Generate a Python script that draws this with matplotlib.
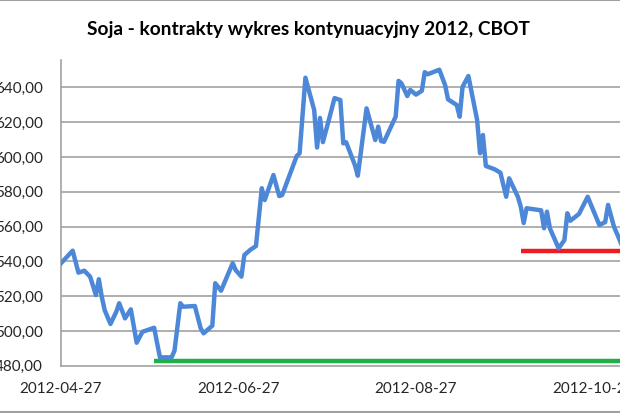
import datetime as dt
import numpy as np
import matplotlib
matplotlib.use('Agg')
import matplotlib.pyplot as plt
import matplotlib.dates as mdates
from matplotlib.lines import Line2D

# Soybean continuous contract
dates = ['2012-04-27', '2012-05-01', '2012-05-03', '2012-05-05', '2012-05-07',
         '2012-05-09', '2012-05-10', '2012-05-11', '2012-05-12', '2012-05-14',
         '2012-05-16', '2012-05-17', '2012-05-19', '2012-05-21', '2012-05-23',
         '2012-05-25', '2012-05-29', '2012-05-31', '2012-06-04', '2012-06-05',
         '2012-06-07', '2012-06-08', '2012-06-12', '2012-06-14', '2012-06-15',
         '2012-06-18', '2012-06-19', '2012-06-21', '2012-06-25', '2012-06-26',
         '2012-06-28', '2012-06-29', '2012-07-01', '2012-07-03', '2012-07-05',
         '2012-07-06', '2012-07-09', '2012-07-11', '2012-07-12', '2012-07-17',
         '2012-07-18', '2012-07-20', '2012-07-23', '2012-07-24', '2012-07-25',
         '2012-07-26', '2012-07-28', '2012-07-30', '2012-08-01', '2012-08-02',
         '2012-08-03', '2012-08-06', '2012-08-07', '2012-08-10', '2012-08-13',
         '2012-08-14', '2012-08-15', '2012-08-16', '2012-08-20', '2012-08-21',
         '2012-08-22', '2012-08-24', '2012-08-25', '2012-08-27', '2012-08-29',
         '2012-08-30', '2012-08-31', '2012-09-04', '2012-09-06', '2012-09-07',
         '2012-09-10', '2012-09-11', '2012-09-12', '2012-09-14', '2012-09-17',
         '2012-09-18', '2012-09-19', '2012-09-20', '2012-09-23', '2012-09-25',
         '2012-09-27', '2012-09-28', '2012-10-01', '2012-10-02', '2012-10-03',
         '2012-10-04', '2012-10-09', '2012-10-10', '2012-10-11', '2012-10-12',
         '2012-10-15', '2012-10-17', '2012-10-18', '2012-10-19', '2012-10-22',
         '2012-10-25', '2012-10-26', '2012-10-29', '2012-10-31', '2012-11-01',
         '2012-11-03', '2012-11-05', '2012-11-06']
prices = [538.9, 546.1, 533.5, 534.6, 531.2,
          520.6, 529.7, 519.7, 512.0, 504.0,
          511.0, 515.9, 507.2, 512.4, 493.2,
          499.5, 501.8, 484.8, 484.8, 488.6,
          515.9, 513.9, 514.3, 501.5, 498.6,
          503.0, 527.4, 523.1, 538.9, 535.0,
          531.2, 543.6, 546.5, 548.8, 582.0,
          575.2, 589.6, 577.5, 578.1, 600.5,
          602.1, 645.5, 627.0, 605.4, 622.4,
          608.5, 621.0, 633.8, 632.7, 607.8,
          608.4, 595.3, 589.2, 627.9, 609.7,
          617.4, 609.1, 608.7, 623.1, 643.7,
          642.3, 635.0, 638.5, 635.8, 638.0,
          648.7, 647.5, 650.1, 641.3, 633.1,
          629.8, 623.1, 640.3, 646.5, 621.2,
          602.1, 612.6, 594.8, 592.9, 590.9,
          577.1, 587.7, 577.1, 571.4, 562.0,
          570.5, 569.3, 559.0, 568.5, 559.0,
          547.5, 552.2, 567.6, 563.3, 567.2,
          577.1, 573.0, 560.9, 562.5, 572.4,
          560.0, 552.2, 548.0]

# support levels drawn on the chart
green_level = 482.7
green_start = '2012-05-29'
red_level = 545.7
red_start = '2012-10-02'

y_ticks = [480, 500, 520, 540, 560, 580, 600, 620, 640]
x_ticks = ['2012-04-27', '2012-06-27', '2012-08-27', '2012-10-27']

title = 'Soja - kontrakty wykres kontynuacyjny 2012, CBOT'

plt.rcParams['font.family'] = ['Lato', 'DejaVu Sans']

def to_num(s):
    return mdates.date2num(dt.datetime.strptime(s, '%Y-%m-%d'))

xs = [to_num(d) for d in dates]
x0 = to_num('2012-04-27')
x1 = x0 + 192.1

fig = plt.figure(figsize=(6.2, 4.13), dpi=100)
ax = fig.add_axes([61/620., 47.3/413., 559/620., 305.7/413.])

for v in y_ticks[1:]:
    ax.axhline(v, color='#9a9a9a', lw=1.1, zorder=1)

ax.plot(xs, prices, color='#4d88d8', lw=3.2, solid_joinstyle='round', zorder=3)
ax.hlines(green_level, to_num(green_start), x1, color='#1fae48', lw=3.2, zorder=2)
ax.hlines(red_level, to_num(red_start), x1, color='#ec1c24', lw=3.2, zorder=2)

ax.set_xlim(x0, x1)
ax.set_ylim(480, 655.7)
ax.set_yticks(y_ticks)
ax.set_yticklabels([('%.2f' % v).replace('.', ',') for v in y_ticks])
ax.set_xticks([to_num(d) for d in x_ticks])
ax.set_xticklabels(x_ticks)
ax.tick_params(axis='y', length=0, pad=13, labelsize=11, labelcolor='#262626')
ax.tick_params(axis='x', length=0, pad=12, labelsize=11, labelcolor='#262626')

for side in ['top', 'right']:
    ax.spines[side].set_visible(False)
for side in ['left', 'bottom']:
    ax.spines[side].set_color('#9a9a9a')
    ax.spines[side].set_linewidth(1.1)

fig.text(0.497, 1 - 30/413., title, ha='center', va='center',
         fontsize=13.8, fontweight='bold', color='black')

# screenshot border lines
fig.add_artist(Line2D([0, 1], [0.999, 0.999], color='#a0a0a0', lw=1.5))
fig.add_artist(Line2D([0, 1], [1.5/413., 1.5/413.], color='#a0a0a0', lw=1.5))

fig.savefig('out.png', dpi=100)
